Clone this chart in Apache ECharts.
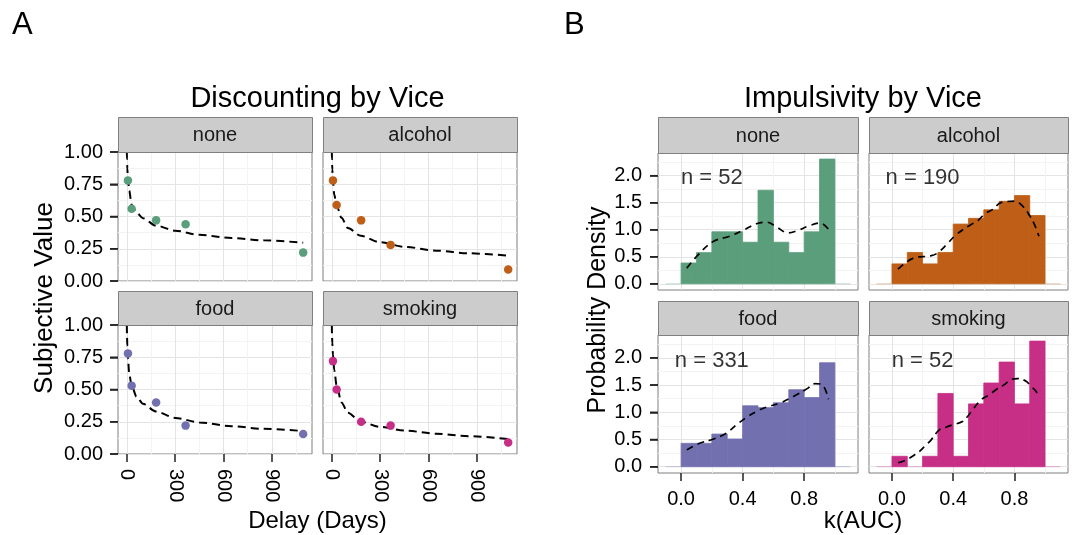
<!DOCTYPE html>
<html>
<head>
<meta charset="utf-8">
<script src="https://cdn.jsdelivr.net/npm/echarts@6/dist/echarts.min.js"></script>
<style>html,body{margin:0;padding:0;background:#fff;}#c{width:1077px;height:535px;}</style>
</head>
<body>
<div id="c"></div>
<script>
// ---------- data ----------
const vices = ['none', 'alcohol', 'food', 'smoking'];
const delays = [7, 30, 182, 365, 1095];
const svNone = [0.78, 0.56, 0.47, 0.44, 0.22];
const svAlcohol = [0.78, 0.59, 0.47, 0.28, 0.09];
const svFood = [0.78, 0.53, 0.40, 0.22, 0.155];
const svSmoking = [0.72, 0.50, 0.25, 0.22, 0.09];

const curveDelays = [0, 1, 3, 7, 15, 30, 60, 100, 180, 300, 450, 650, 850, 1095];
const fitNone = [1, 0.947, 0.875, 0.79, 0.70, 0.59, 0.53, 0.487, 0.43, 0.39, 0.358, 0.333, 0.315, 0.297];
const fitAlcohol = [1, 0.945, 0.865, 0.77, 0.67, 0.585, 0.49, 0.41, 0.35, 0.30, 0.265, 0.235, 0.215, 0.196];
const fitFood = [1, 0.93, 0.84, 0.74, 0.62, 0.53, 0.445, 0.39, 0.33, 0.28, 0.245, 0.215, 0.195, 0.178];
const fitSmoking = [1, 0.93, 0.86, 0.77, 0.65, 0.53, 0.40, 0.32, 0.25, 0.21, 0.182, 0.157, 0.138, 0.116];

const binStarts = [-0.1, 0.0, 0.1, 0.2, 0.3, 0.4, 0.5, 0.6, 0.7, 0.8, 0.9, 1.0];
const binWidth = 0.1;
const densNone = [0, 0.385, 0.577, 0.962, 0.962, 0.769, 1.731, 0.769, 0.577, 0.962, 2.308, 0];
const densAlcohol = [0, 0.368, 0.579, 0.368, 0.579, 1.105, 1.211, 1.368, 1.526, 1.632, 1.263, 0];
const densFood = [0, 0.43, 0.43, 0.60, 0.51, 1.12, 1.085, 1.175, 1.415, 1.27, 1.91, 0];
const densSmoking = [0, 0.192, 0, 0.192, 1.346, 0.192, 1.154, 1.538, 1.923, 1.154, 2.308, 0];

const kdeNoneX = [0.037, 0.109, 0.207, 0.316, 0.403, 0.49, 0.556, 0.621, 0.697, 0.752, 0.839, 0.904, 0.958];
const kdeNoneY = [0.29, 0.53, 0.78, 0.88, 0.99, 1.11, 1.14, 1.05, 0.94, 0.98, 1.08, 1.125, 1.01];
const kdeAlcoholX = [0.039, 0.137, 0.257, 0.3, 0.355, 0.42, 0.507, 0.562, 0.605, 0.66, 0.703, 0.747, 0.801, 0.856, 0.9, 0.932, 0.96];
const kdeAlcoholY = [0.27, 0.47, 0.52, 0.575, 0.72, 0.91, 1.08, 1.17, 1.29, 1.38, 1.49, 1.52, 1.53, 1.43, 1.26, 1.09, 0.88];
const kdeFoodX = [0.037, 0.12, 0.207, 0.294, 0.36, 0.425, 0.49, 0.556, 0.643, 0.73, 0.817, 0.871, 0.915, 0.958];
const kdeFoodY = [0.31, 0.43, 0.505, 0.615, 0.77, 0.905, 1.015, 1.095, 1.17, 1.29, 1.43, 1.526, 1.51, 1.24];
const kdeSmokingX = [0.041, 0.091, 0.146, 0.178, 0.222, 0.255, 0.309, 0.353, 0.396, 0.461, 0.494, 0.527, 0.582, 0.636, 0.68, 0.734, 0.778, 0.821, 0.876, 0.908, 0.941, 0.958];
const kdeSmokingY = [0.074, 0.123, 0.215, 0.277, 0.4, 0.49, 0.677, 0.726, 0.769, 0.83, 0.923, 1.046, 1.23, 1.323, 1.415, 1.508, 1.6, 1.62, 1.57, 1.477, 1.385, 1.28];

const nLabels = ['n = 52', 'n = 190', 'n = 331', 'n = 52'];
const nLabelPos = [0.2, 1.95];

const delayTicks = [0, 300, 600, 900];
const delayMinor = [150, 450, 750, 1050];
const svTicks = [0, 0.25, 0.5, 0.75, 1.0];
const kTicks = [0.0, 0.4, 0.8];
const kMinor = [0.2, 0.6, 1.0];
const densTicks = [0.0, 0.5, 1.0, 1.5, 2.0];
const densMinor = [0.25, 0.75, 1.25, 1.75, 2.25];

// ---------- styling / layout ----------
const FONT = '"Liberation Sans", Arial, Helvetica, sans-serif';
const colors = ['#5A9E7B', '#BE5E17', '#7370B0', '#C72E86'];
const svSets = [svNone, svAlcohol, svFood, svSmoking];
const fitSets = [fitNone, fitAlcohol, fitFood, fitSmoking];
const densSets = [densNone, densAlcohol, densFood, densSmoking];
const kdeSets = [[kdeNoneX, kdeNoneY], [kdeAlcoholX, kdeAlcoholY], [kdeFoodX, kdeFoodY], [kdeSmokingX, kdeSmokingY]];

const panelsA = [
  {left: 118, top: 152, width: 194, height: 129},
  {left: 323, top: 152, width: 194, height: 129},
  {left: 118, top: 325, width: 194, height: 129},
  {left: 323, top: 325, width: 194, height: 129}
];
const panelsB = [
  {left: 658, top: 153, width: 200, height: 137},
  {left: 869, top: 153, width: 199, height: 137},
  {left: 658, top: 335, width: 200, height: 138},
  {left: 869, top: 335, width: 199, height: 138}
];
const stripsA = [{y: 117, h: 35}, {y: 117, h: 35}, {y: 291, h: 34}, {y: 291, h: 34}];
const stripsB = [{y: 117, h: 36}, {y: 117, h: 36}, {y: 301, h: 34}, {y: 301, h: 34}];

const grids = [];
const xAxes = [];
const yAxes = [];
const series = [];
const graphics = [];

const TICK_LEN = 8;
const TICK_COLOR = '#222';
const tickStyle = {show: true, inside: false, length: TICK_LEN, lineStyle: {color: TICK_COLOR, width: 1.5}};
const labelStyle = {fontFamily: FONT, fontSize: 20, color: '#000'};

function addAxes(list, dim, gi, min, max, major, minor, labelled, fmt, rotate, margin) {
  const pos = dim === 'x' ? 'bottom' : 'left';
  const otherPos = dim === 'x' ? 'top' : 'right';
  list.push({
    type: 'value', gridIndex: gi, min: min, max: max, position: otherPos,
    axisLine: {show: false, onZero: false}, axisTick: {show: false, customValues: minor},
    axisLabel: {show: false, customValues: minor},
    splitLine: {show: true, lineStyle: {color: '#f3f3f3', width: 1}}
  });
  list.push({
    type: 'value', gridIndex: gi, min: min, max: max, position: pos,
    axisLine: {show: false, onZero: false},
    axisTick: Object.assign({}, tickStyle, {show: labelled, customValues: major}),
    axisLabel: Object.assign({show: labelled, customValues: major, formatter: fmt, rotate: rotate || 0, margin: margin}, labelStyle),
    splitLine: {show: true, lineStyle: {color: '#e4e4e4', width: 1}}
  });
  return list.length - 1;
}

function addNativeY(gi, labelled) {
  yAxes.push({
    type: 'value', gridIndex: gi, min: 0, max: 1, interval: 0.25, position: 'left',
    axisLine: {show: false, onZero: false},
    axisTick: Object.assign({}, tickStyle, {show: labelled}),
    axisLabel: Object.assign({show: labelled, formatter: v => v.toFixed(2), margin: 15}, labelStyle),
    splitLine: {show: true, lineStyle: {color: '#e4e4e4', width: 1}},
    minorTick: {show: false, splitNumber: 2},
    minorSplitLine: {show: true, lineStyle: {color: '#f3f3f3', width: 1}}
  });
  return yAxes.length - 1;
}

// y-axis tick marks, placed through the axis scale just left of the panel
function addYTickSeries(xi, yi, xMin, values) {
  series.push({type: 'custom', xAxisIndex: xi, yAxisIndex: yi, clip: false, silent: true, z: 10,
    data: values.map(v => [xMin, v]),
    renderItem: function (params, api) {
      const p = api.coord([api.value(0), api.value(1)]);
      return {type: 'line', shape: {x1: p[0] - TICK_LEN, y1: p[1], x2: p[0], y2: p[1]},
        style: {stroke: TICK_COLOR, lineWidth: 1.5}};
    }
  });
}

function stripGraphic(p, s, text) {
  graphics.push({type: 'rect', shape: {x: p.left + 0.5, y: s.y + 0.5, width: p.width, height: s.h},
    style: {fill: '#cccccc', stroke: '#7f7f7f', lineWidth: 1}, z: 10});
  graphics.push({type: 'text', x: p.left + p.width / 2, y: s.y + s.h / 2 + 1, z: 11,
    style: {text: text, fill: '#1a1a1a', font: '20px ' + FONT, textAlign: 'center', textVerticalAlign: 'middle'}});
}

// Panel A
panelsA.forEach((p, i) => {
  grids.push({left: p.left, top: p.top, width: p.width, height: p.height, show: true,
    backgroundColor: '#fff', borderColor: '#7f7f7f', borderWidth: 1});
  const gi = grids.length - 1;
  const xi = addAxes(xAxes, 'x', gi, -54.75, 1149.75, delayTicks, delayMinor, i >= 2, v => String(v), -90, 15);
  const yi = addNativeY(gi, i % 2 === 0);
  series.push({type: 'line', xAxisIndex: xi, yAxisIndex: yi, data: curveDelays.map((d, j) => [d, fitSets[i][j]]),
    showSymbol: false, symbol: 'none', smooth: 0.3, smoothMonotone: 'x', z: 3,
    lineStyle: {color: '#000', width: 2, type: [8, 5]}, silent: true});
  series.push({type: 'scatter', xAxisIndex: xi, yAxisIndex: yi, data: delays.map((d, j) => [d, svSets[i][j]]),
    symbolSize: 8.5, itemStyle: {color: colors[i], opacity: 1}, z: 4, silent: true});
  if (i % 2 === 0) addYTickSeries(xi, yi, -54.75, svTicks);
  stripGraphic(p, stripsA[i], vices[i]);
});

// Panel B
panelsB.forEach((p, i) => {
  grids.push({left: p.left, top: p.top, width: p.width, height: p.height, show: true,
    backgroundColor: '#fff', borderColor: '#7f7f7f', borderWidth: 1});
  const gi = grids.length - 1;
  const xi = addAxes(xAxes, 'x', gi, -0.15, 1.15, kTicks, kMinor, i >= 2, v => v.toFixed(1), 0, 16);
  const yi = addAxes(yAxes, 'y', gi, -0.115, 2.42, densTicks, densMinor, i % 2 === 0, v => v.toFixed(1), 0, 16);
  const col = colors[i];
  series.push({type: 'custom', xAxisIndex: xi, yAxisIndex: yi, z: 2, silent: true,
    data: binStarts.map((b, j) => [b, b + binWidth, densSets[i][j]]),
    renderItem: function (params, api) {
      const a = api.coord([api.value(0), 0]);
      const b = api.coord([api.value(1), api.value(2)]);
      const h = a[1] - b[1];
      if (h < 0.5) {
        return {type: 'rect', shape: {x: a[0], y: a[1] - 0.5, width: b[0] - a[0], height: 1},
          style: {fill: col, opacity: 0.35}};
      }
      return {type: 'rect', shape: {x: a[0], y: b[1], width: b[0] - a[0], height: h},
        style: {fill: col, stroke: col, lineWidth: 0.8}};
    }
  });
  const kx = kdeSets[i][0], ky = kdeSets[i][1];
  series.push({type: 'line', xAxisIndex: xi, yAxisIndex: yi, data: kx.map((x, j) => [x, ky[j]]),
    showSymbol: false, symbol: 'none', smooth: 0.4, z: 3, silent: true,
    lineStyle: {color: '#000', width: 1.7, type: [7, 5]}});
  series.push({type: 'scatter', xAxisIndex: xi, yAxisIndex: yi, data: [nLabelPos], symbolSize: 0, z: 5, silent: true,
    label: {show: true, position: 'inside', formatter: nLabels[i], fontFamily: FONT, fontSize: 22, color: '#000'}});
  if (i % 2 === 0) addYTickSeries(xi, yi, -0.15, densTicks);
  stripGraphic(p, stripsB[i], vices[i]);
});

// Titles and axis titles
function txt(text, x, y, size, rot) {
  graphics.push({type: 'text', x: x, y: y, rotation: rot || 0, z: 12,
    style: {text: text, fill: '#000', font: size + 'px ' + FONT, textAlign: 'center', textVerticalAlign: 'middle'}});
}
graphics.push({type: 'text', x: 12, y: 25, z: 12, style: {text: 'A', fill: '#000', font: '31px ' + FONT, textAlign: 'left', textVerticalAlign: 'middle'}});
graphics.push({type: 'text', x: 564, y: 25, z: 12, style: {text: 'B', fill: '#000', font: '31px ' + FONT, textAlign: 'left', textVerticalAlign: 'middle'}});
txt('Discounting by Vice', 317.5, 99, 29);
txt('Impulsivity by Vice', 863, 99, 29);
txt('Subjective Value', 45, 298, 26, Math.PI / 2);
txt('Probability Density', 598, 310, 25, Math.PI / 2);
txt('Delay (Days)', 317.5, 521, 24);
txt('k(AUC)', 863, 521, 24);

const chart = echarts.init(document.getElementById('c'), null, {renderer: 'canvas'});
chart.setOption({
  animation: false,
  backgroundColor: '#fff',
  grid: grids,
  xAxis: xAxes,
  yAxis: yAxes,
  series: series,
  graphic: {elements: graphics}
});
</script>
</body>
</html>
